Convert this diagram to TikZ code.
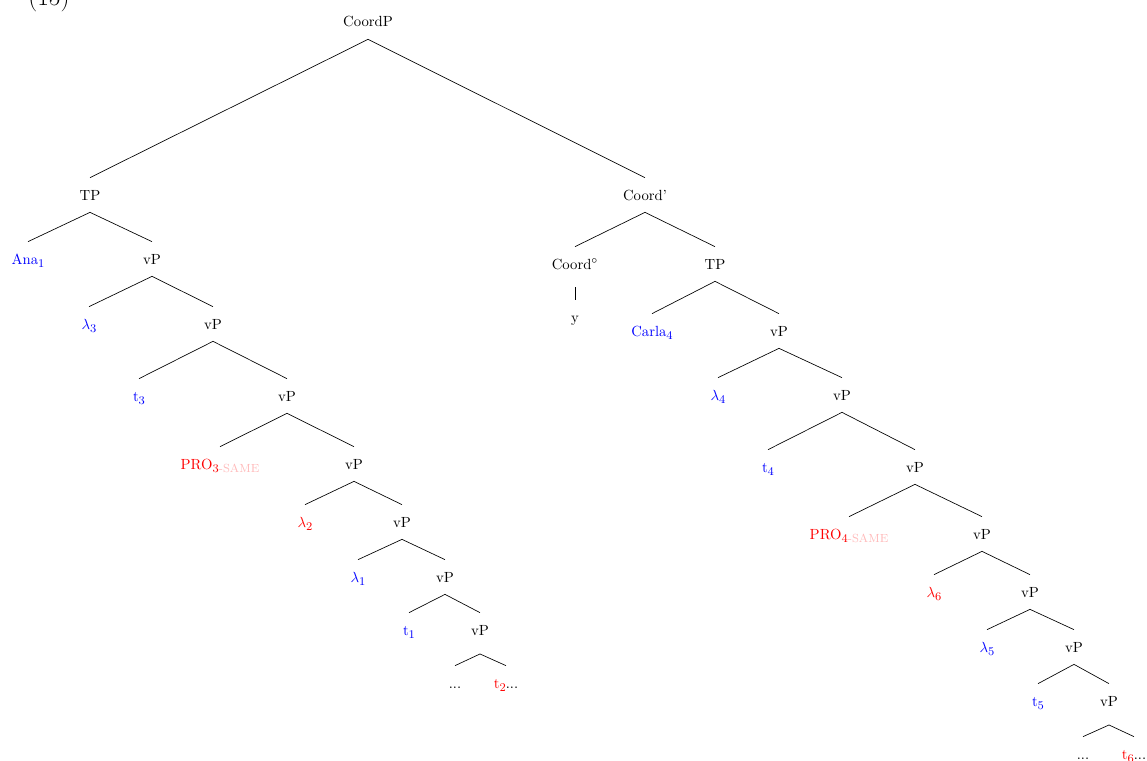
\documentclass[tikz,border=0pt]{standalone}
\usepackage{xcolor}
\begin{document}
\begin{tikzpicture}[x=0.68pt,y=-0.68pt,
  lbl/.style={anchor=base, inner sep=0pt, text height=15pt, text depth=8.2pt},
  blu/.style={lbl, text=blue},
  rd/.style={lbl, text=red},
  br/.style={line width=0.45pt}]
\useasboundingbox (0,0) rectangle (1147,761);
\newcommand{\sbx}[1]{\raisebox{-0.55ex}{\footnotesize #1}}
\newcommand{\sameMark}{\raisebox{-0.55ex}{\footnotesize\color{red!28}-SAME}}
% example number (clipped at top)
\node[anchor=base, inner sep=0pt] (exnum) at (49,6) {\LARGE (15)};
% left
\node[lbl] (root) at (368,27) {CoordP};
\node[lbl] (tpL) at (90,200) {TP};
\node[blu] (ana) at (28,264) {Ana\sbx{1}};
\node[lbl] (v1) at (152,264) {vP};
\node[blu] (lam3) at (89,329) {$\lambda$\sbx{3}};
\node[lbl] (v2) at (213,329) {vP};
\node[blu] (t3) at (139,401) {t\sbx{3}};
\node[lbl] (v3) at (287,401) {vP};
\node[rd] (pro3) at (220,469) {PRO\sbx{3}\sameMark};
\node[lbl] (v4) at (354,469) {vP};
\node[rd] (lam2) at (305,527) {$\lambda$\sbx{2}};
\node[lbl] (v5) at (402,527) {vP};
\node[blu] (lam1) at (358,582) {$\lambda$\sbx{1}};
\node[lbl] (v6) at (445,582) {vP};
\node[blu] (t1) at (409,635) {t\sbx{1}};
\node[lbl] (v7) at (480,635) {vP};
\node[lbl] (dotsL) at (455,688) {...};
\node[lbl] (t2) at (506,688) {\color{red}t\sbx{2}\color{black}...};
% right
\node[lbl] (cbar) at (645,200) {Coord'};
\node[lbl] (cdeg) at (575,269) {Coord$^\circ$};
\node[lbl] (yy) at (575,322) {y};
\node[lbl] (tpR) at (715,269) {TP};
\node[blu] (carla) at (652,336) {Carla\sbx{4}};
\node[lbl] (w1) at (779,336) {vP};
\node[blu] (lam4) at (718,400) {$\lambda$\sbx{4}};
\node[lbl] (w2) at (842,400) {vP};
\node[blu] (t4) at (768,472) {t\sbx{4}};
\node[lbl] (w3) at (915,472) {vP};
\node[rd] (pro4) at (849,539) {PRO\sbx{4}\sameMark};
\node[lbl] (w4) at (982,539) {vP};
\node[rd] (lam6) at (934,597) {$\lambda$\sbx{6}};
\node[lbl] (w5) at (1030,597) {vP};
\node[blu] (lam5) at (987,652) {$\lambda$\sbx{5}};
\node[lbl] (w6) at (1074,652) {vP};
\node[blu] (t5) at (1038,706) {t\sbx{5}};
\node[lbl] (w7) at (1109,706) {vP};
\node[lbl] (dotsR) at (1083,759) {...};
\node[lbl] (t6) at (1134,759) {\color{red}t\sbx{6}\color{black}...};
% edges left
\draw[br] (tpL.north) -- (root.south) -- (cbar.north);
\draw[br] (ana.north) -- (tpL.south) -- (v1.north);
\draw[br] (lam3.north) -- (v1.south) -- (v2.north);
\draw[br] (t3.north) -- (v2.south) -- (v3.north);
\draw[br] (pro3.north) -- (v3.south) -- (v4.north);
\draw[br] (lam2.north) -- (v4.south) -- (v5.north);
\draw[br] (lam1.north) -- (v5.south) -- (v6.north);
\draw[br] (t1.north) -- (v6.south) -- (v7.north);
\draw[br] (dotsL.north) -- ([yshift=-4.5pt]v7.south) -- (t2.north);
% edges right
\draw[br] (cdeg.north) -- (cbar.south) -- (tpR.north);
\draw[br] ([yshift=-4pt]cdeg.south) -- (yy.north);
\draw[br] (carla.north) -- (tpR.south) -- (w1.north);
\draw[br] (lam4.north) -- (w1.south) -- (w2.north);
\draw[br] (t4.north) -- (w2.south) -- (w3.north);
\draw[br] (pro4.north) -- (w3.south) -- (w4.north);
\draw[br] (lam6.north) -- (w4.south) -- (w5.north);
\draw[br] (lam5.north) -- (w5.south) -- (w6.north);
\draw[br] (t5.north) -- (w6.south) -- (w7.north);
\draw[br] (dotsR.north) -- ([yshift=-4.5pt]w7.south) -- (t6.north);
\end{tikzpicture}
\end{document}
